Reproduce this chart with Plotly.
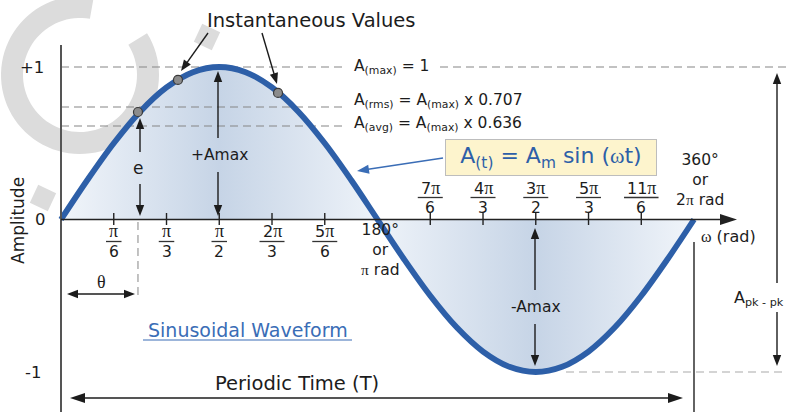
import numpy as np
import plotly.graph_objects as go

# waveform, every 15 degrees
angle_deg = [0, 15, 30, 45, 60, 75, 90, 105, 120, 135, 150, 165, 180,
             195, 210, 225, 240, 255, 270, 285, 300, 315, 330, 345, 360]
amplitude = [0, 0.259, 0.5, 0.707, 0.866, 0.966, 1, 0.966, 0.866, 0.707, 0.5, 0.259, 0,
             -0.259, -0.5, -0.707, -0.866, -0.966, -1, -0.966, -0.866, -0.707, -0.5, -0.259, 0]

# instantaneous value dots (rad, amplitude)
inst_rad = [0.764, 1.161, 2.154]
inst_amp = [0.705, 0.915, 0.83]

# dashed reference levels as drawn (max, rms, avg)
level_values = [1.0, 0.738, 0.613]
level_text = ["A<sub>(max)</sub> = 1",
              "A<sub>(rms)</sub> = A<sub>(max)</sub> x 0.707",
              "A<sub>(avg)</sub> = A<sub>(max)</sub> x 0.636"]

# tick marks in multiples of pi/6
tick_k = [1, 2, 3, 4, 5, 7, 8, 9, 10, 11]
tick_num = ["", "", "", "2", "5", "7", "4", "3", "5", "11"]
tick_den = ["6", "3", "2", "3", "6", "6", "3", "2", "3", "6"]

W, H = 787, 412
X0_PX, XSCALE = 61, 100.75     # origin px, px per rad
Y0_PX, YSCALE = 219.5, 152.5   # zero px, px per unit

FONT = "DejaVu Sans"
SERIF = "Liberation Serif"
INK = "#1c1c1c"
BLUE = "#2d5fa8"
PI = '<span style="font-family:Liberation Serif">π</span>'


def dx(p):
    return (p - X0_PX) / XSCALE


def dy(p):
    return (Y0_PX - p) / YSCALE


x_rad = np.deg2rad(angle_deg)

fig = go.Figure()

# gradient fill under the wave
fig.add_trace(go.Scatter(
    x=x_rad, y=amplitude, mode="lines", line=dict(width=0, shape="spline"),
    fill="tozeroy",
    fillgradient=dict(type="horizontal", colorscale=[
        [0, "#f1f5fa"], [0.25, "#c6d4e6"], [0.5, "#eef3f9"],
        [0.75, "#c6d4e6"], [1, "#f1f5fa"]]),
    hoverinfo="skip"))

# dashed level lines
for i, lv in enumerate(level_values):
    xs = [0, dx(346)]
    ys = [lv, lv]
    if i == 0:
        xs += [None, dx(440), dx(W)]
        ys += [None, lv, lv]
    fig.add_trace(go.Scatter(x=xs, y=ys, mode="lines",
                             line=dict(color="#858585", width=1.1, dash="8px,5px"),
                             hoverinfo="skip"))

# -1 level on the right
fig.add_trace(go.Scatter(x=[dx(566), dx(W)], y=[min(amplitude)] * 2, mode="lines",
                         line=dict(color="#aaaaaa", width=1.2, dash="8px,5px"),
                         hoverinfo="skip"))

# theta guide
fig.add_trace(go.Scatter(x=[inst_rad[0]] * 2, y=[dy(222), dy(300)], mode="lines",
                         line=dict(color="#9a9a9a", width=1.2, dash="8px,5px"),
                         hoverinfo="skip"))

# the wave
fig.add_trace(go.Scatter(x=x_rad, y=amplitude, mode="lines",
                         line=dict(color=BLUE, width=5.8, shape="spline"),
                         hoverinfo="skip"))

fig.add_trace(go.Scatter(x=inst_rad, y=inst_amp, mode="markers",
                         marker=dict(size=9, color="#8c8c8c",
                                     line=dict(color="#3a3a3a", width=1.2)),
                         hoverinfo="skip"))

shapes = []
annotations = []


def line(x0, y0, x1, y1, color=INK, width=1.4, dash=None):
    shapes.append(dict(type="line", xref="x", yref="y",
                       x0=dx(x0), y0=dy(y0), x1=dx(x1), y1=dy(y1),
                       line=dict(color=color, width=width, dash=dash)))


def head(xt, yt, ux, uy, length, half, color):
    bx, by = xt - ux * length, yt - uy * length
    px_, py_ = -uy, ux
    pts = [(xt, yt), (bx + px_ * half, by + py_ * half), (bx - px_ * half, by - py_ * half)]
    path = "M " + " L ".join(f"{dx(a):.5f},{dy(b):.5f}" for a, b in pts) + " Z"
    shapes.append(dict(type="path", xref="x", yref="y", path=path,
                       fillcolor=color, line=dict(width=0)))


def arrow(x0, y0, x1, y1, color=INK, width=1.4, length=11, half=4.2, both=False):
    d = np.hypot(x1 - x0, y1 - y0)
    ux, uy = (x1 - x0) / d, (y1 - y0) / d
    sx = x0 + ux * length * 0.8 if both else x0
    sy = y0 + uy * length * 0.8 if both else y0
    line(sx, sy, x1 - ux * length * 0.8, y1 - uy * length * 0.8, color, width)
    head(x1, y1, ux, uy, length, half, color)
    if both:
        head(x0, y0, -ux, -uy, length, half, color)


def text(x, y, s, size=15.5, color=INK, family=FONT, **kw):
    annotations.append(dict(x=x, y=y, xref="x", yref="y", text=s, showarrow=False,
                            font=dict(size=size, color=color, family=family), **kw))


# watermark ring and blocks (light grey, behind everything)
cx, cy, r_in, r_out = 80, 75, 57, 79
angs = np.deg2rad(np.linspace(80, 392, 80))
outer = [(cx + r_out * np.cos(a), cy - r_out * np.sin(a)) for a in angs]
inner = [(cx + r_in * np.cos(a), cy - r_in * np.sin(a)) for a in angs[::-1]]
ring = outer + inner
shapes.append(dict(type="path", xref="x", yref="y", layer="below",
                   path="M " + " L ".join(f"{dx(a):.5f},{dy(b):.5f}" for a, b in ring) + " Z",
                   fillcolor="#dcdcdc", line=dict(width=0)))
for bx_, by_ in [(207, 37), (43, 198)]:
    sq = [(bx_ + 14 * np.cos(np.deg2rad(t)), by_ - 14 * np.sin(np.deg2rad(t)))
          for t in (20, 110, 200, 290)]
    shapes.append(dict(type="path", xref="x", yref="y", layer="below",
                       path="M " + " L ".join(f"{dx(a):.5f},{dy(b):.5f}" for a, b in sq) + " Z",
                       fillcolor="#dcdcdc", line=dict(width=0)))

# axes
line(61, 45, 61, H, color="#555555", width=2)
arrow(61, 219.5, 737, 219.5, color="#222222", width=1.6, length=17, half=5.5)
line(694, 242, 694, H, color="#222222", width=1.4)

# ticks and fraction labels
for k, num, den in zip(tick_k, tick_num, tick_den):
    xv = k * np.pi / 6
    shapes.append(dict(type="line", xref="x", yref="y", x0=xv, x1=xv,
                       y0=dy(213), y1=dy(225), line=dict(color="#222222", width=1.4)))
    upper = k > 6
    y_num, y_bar, y_den = (188, 197.5, 208) if upper else (231, 241.5, 252)
    half_w = (6 + 9.5 * (len(num) + 1)) / 2 / XSCALE
    shapes.append(dict(type="line", xref="x", yref="y", x0=xv - half_w, x1=xv + half_w,
                       y0=dy(y_bar), y1=dy(y_bar), line=dict(color="#333333", width=1.3)))
    text(xv, dy(y_num), num + '<span style="font-size:18px;font-family:Liberation Serif">π</span>',
         size=16)
    text(xv, dy(y_den), den, size=15.5)

# level labels
for lv_py, s in zip([67, 101, 124], level_text):
    text(dx(352), dy(lv_py), s, size=15.5, xanchor="left")

text(dx(311), dy(20), "Instantaneous Values", size=19.5)
arrow(208, 33, 181, 71)
arrow(262, 33, 277, 84)

text(dx(46), 1, "+1", size=16.5, xanchor="right")
text(dx(48), 0, "0", size=16.5, xanchor="right")
text(dx(43), -1, "-1", size=16.5, xanchor="right")
annotations.append(dict(x=dx(18), y=dy(221), xref="x", yref="y", text="Amplitude",
                        textangle=-90, showarrow=False,
                        font=dict(size=17, color=INK, family=FONT)))

# formula box with pointer
annotations.append(dict(x=dx(551), y=dy(157.5), xref="x", yref="y",
                        text="A<sub>(t)</sub> = A<sub>m</sub> sin (<span style=\"font-family:Liberation Serif\">ω</span>t)",
                        showarrow=False, bgcolor="#fdf4cd", bordercolor="#bdbdbd",
                        borderwidth=1, borderpad=2, width=206, height=31,
                        font=dict(size=22, color=BLUE, family=FONT)))
arrow(443, 158, 357, 171, color="#3a6db6", width=1.6, length=12, half=4.5)

# amplitude arrows
text(np.pi / 2, dy(155), "+Amax", size=15.5)
arrow(218, 138, 218, 71)
arrow(218, 172, 218, 216)
text(inst_rad[0], dy(168), "e", size=17)
arrow(140, 152, 140, 118)
arrow(140, 184, 140, 216)
text(3 * np.pi / 2, dy(307), "-Amax", size=15.5)
arrow(535, 290, 535, 228)
arrow(535, 324, 535, 366)
text(dx(732), dy(298), "A<sub>pk - pk</sub>", size=16, xanchor="left")
arrow(777, 283, 777, 73)
arrow(777, 312, 777, 366)

# theta and period
text(dx(101), dy(282), "θ", size=18, family=SERIF)
arrow(67, 294, 135, 294, both=True)
text(dx(247.5), dy(330), "Sinusoidal Waveform", size=19, color="#3a6db6")
line(143, 340, 352, 340, color="#3a6db6", width=1.2)
text(dx(297), dy(383), "Periodic Time (T)", size=19.5)
arrow(70, 398, 683, 398, both=True, length=15, half=5)

# half / full cycle labels
text(np.pi + 0.02, dy(219), "180°<br>or<br>" + PI + " rad", size=15.5, yanchor="top")
text(dx(700), dy(211), "360°<br>or<br>2" + PI + " rad", size=15.5, yanchor="bottom")
text(dx(728), dy(236), '<span style="font-family:Liberation Serif">ω</span> (rad)', size=16)

fig.update_layout(
    width=W, height=H, margin=dict(l=0, r=0, t=0, b=0),
    paper_bgcolor="white", plot_bgcolor="white", showlegend=False,
    xaxis=dict(visible=False, range=[dx(0), dx(W)], fixedrange=True),
    yaxis=dict(visible=False, range=[dy(H), dy(0)], fixedrange=True),
    shapes=shapes, annotations=annotations, hovermode=False,
)

fig.write_html("out.html", config={"displayModeBar": False},
               post_script="document.body.style.margin='0';document.body.style.overflow='hidden';")
